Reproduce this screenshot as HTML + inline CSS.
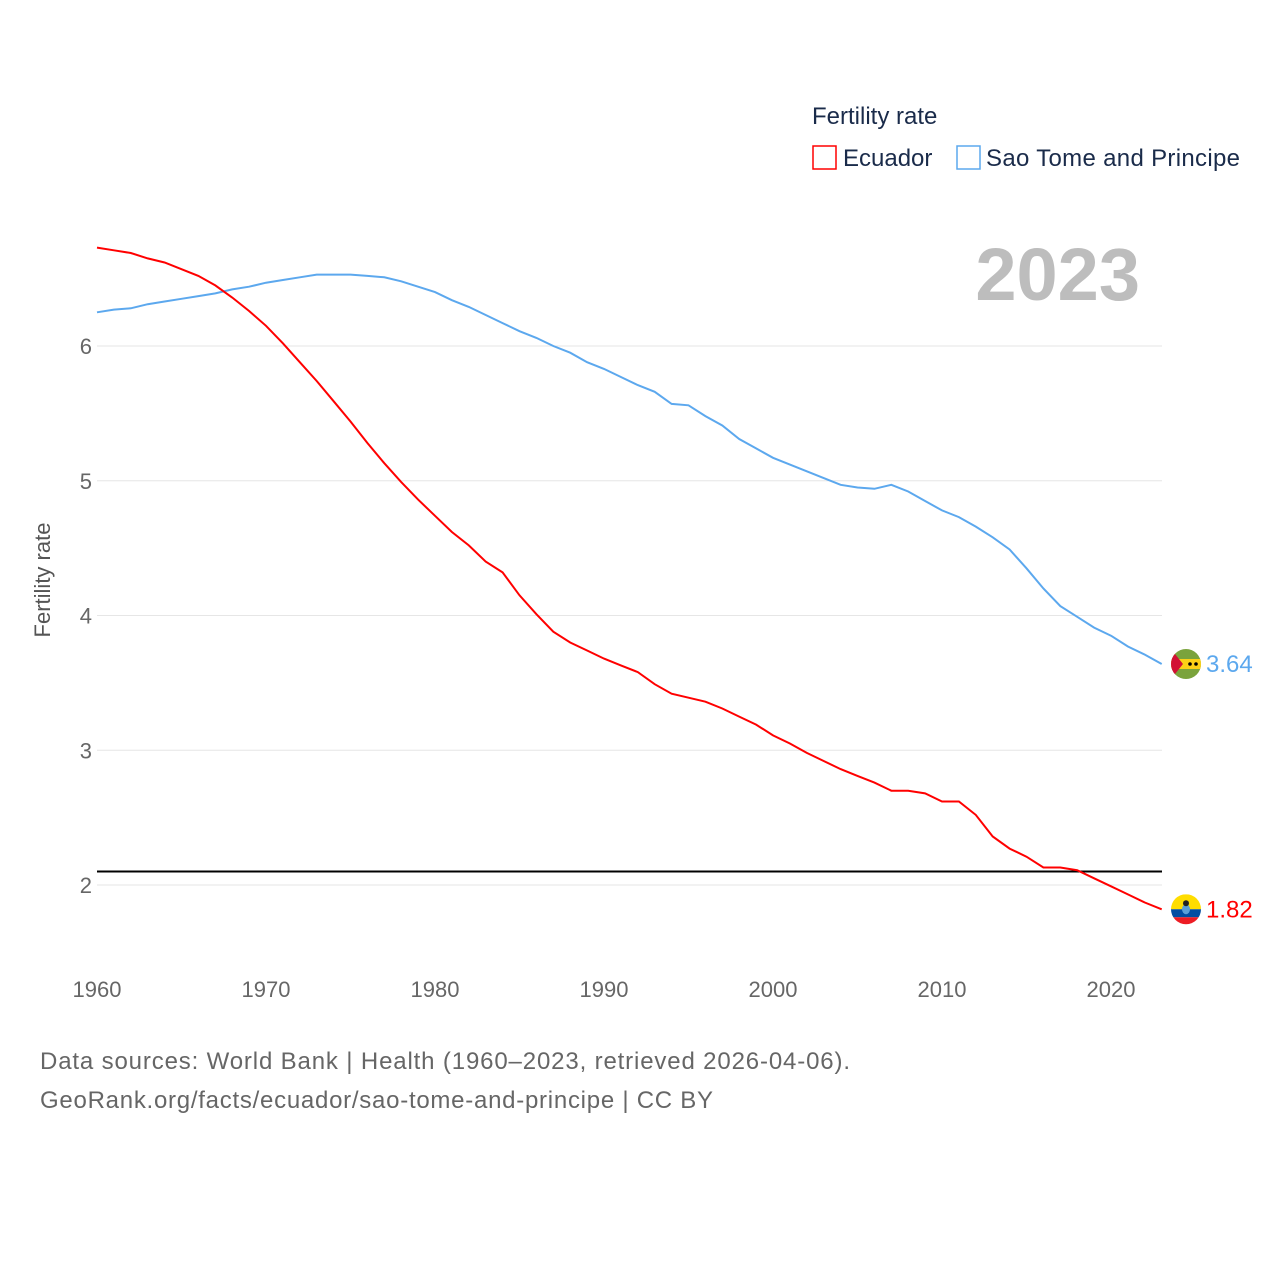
<!DOCTYPE html>
<html><head><meta charset="utf-8">
<style>
body{margin:0;background:#fff;}
svg{display:block;font-family:"Liberation Sans",sans-serif;}
</style></head>
<body>
<svg id="chart" width="1280" height="1280" viewBox="0 0 1280 1280">
  <text x="812" y="124" font-size="24" fill="#1a2b4a">Fertility rate</text>
  <g>
    <rect x="813" y="146" width="23" height="23" fill="none" stroke="#ff0000" stroke-width="1.5"/>
    <text x="843" y="166" font-size="24" fill="#1a2b4a">Ecuador</text>
  </g>
  <g>
    <rect x="957" y="146" width="23" height="23" fill="none" stroke="#5ca8ee" stroke-width="1.5"/>
    <text x="986" y="166" font-size="24" fill="#1a2b4a" textLength="254">Sao Tome and Principe</text>
  </g>
  <text x="1140" y="300" font-size="74" font-weight="bold" fill="#bdbdbd" text-anchor="end">2023</text>
  <text transform="translate(50,580) rotate(-90)" font-size="22" fill="#555" text-anchor="middle">Fertility rate</text>
  <g id="grid"></g>
  <g id="series"></g>
  <text x="40" y="1069" font-size="24" fill="#666" textLength="810">Data sources: World Bank | Health (1960–2023, retrieved 2026-04-06).</text>
  <text x="40" y="1108" font-size="24" fill="#666" textLength="673">GeoRank.org/facts/ecuador/sao-tome-and-principe | CC BY</text>
</svg>
<script>
const years = [];
for (let y = 1960; y <= 2023; y++) years.push(y);
const ecuador = [6.73,6.71,6.69,6.65,6.62,6.57,6.52,6.45,6.36,6.26,6.15,6.02,5.88,5.74,5.59,5.44,5.28,5.13,4.99,4.86,4.74,4.62,4.52,4.40,4.32,4.15,4.01,3.88,3.80,3.74,3.68,3.63,3.58,3.49,3.42,3.39,3.36,3.31,3.25,3.19,3.11,3.05,2.98,2.92,2.86,2.81,2.76,2.70,2.70,2.68,2.62,2.62,2.52,2.36,2.27,2.21,2.13,2.13,2.11,2.05,1.99,1.93,1.87,1.82];
const saoTome = [6.25,6.27,6.28,6.31,6.33,6.35,6.37,6.39,6.42,6.44,6.47,6.49,6.51,6.53,6.53,6.53,6.52,6.51,6.48,6.44,6.40,6.34,6.29,6.23,6.17,6.11,6.06,6.00,5.95,5.88,5.83,5.77,5.71,5.66,5.57,5.56,5.48,5.41,5.31,5.24,5.17,5.12,5.07,5.02,4.97,4.95,4.94,4.97,4.92,4.85,4.78,4.73,4.66,4.58,4.49,4.35,4.20,4.07,3.99,3.91,3.85,3.77,3.71,3.64];
const yTicks = [2,3,4,5,6];
const xTicks = [1960,1970,1980,1990,2000,2010,2020];
const replacementRate = 2.1;

const NS = "http://www.w3.org/2000/svg";
const xS = yr => 97 + (yr - 1960) * (1064.7 / 63);
const yS = v => 885 - (v - 2) * 134.75;
function mk(tag, attrs, parent) {
  const e = document.createElementNS(NS, tag);
  for (const k in attrs) e.setAttribute(k, attrs[k]);
  parent.appendChild(e);
  return e;
}
const grid = document.getElementById('grid');
const ser = document.getElementById('series');
yTicks.forEach(t => {
  const l = mk('line', {x1: 97, x2: 1162, y1: yS(t), y2: yS(t), stroke: '#e6e6e6', 'stroke-width': 1}, grid);
  
  
  const tx = mk('text', {x: 92, y: yS(t) + 8, 'font-size': 22, fill: '#666', 'text-anchor': 'end'}, grid);
  tx.textContent = t;
  
  
});
xTicks.forEach(t => {
  const tx = mk('text', {x: xS(t), y: 997, 'font-size': 22, fill: '#666', 'text-anchor': 'middle'}, grid);
  tx.textContent = t;
  
  
});
const ref = mk('line', {x1: 97, x2: 1162, y1: yS(replacementRate), y2: yS(replacementRate), stroke: '#000', 'stroke-width': 2}, ser);



function drawLine(vals, color, name) {
  const d = vals.map((v, i) => (i ? 'L' : 'M') + xS(years[i]).toFixed(1) + ',' + yS(v).toFixed(1)).join(' ');
  const p = mk('path', {d: d, fill: 'none', stroke: color, 'stroke-width': 2}, ser);
  
  
  const last = vals[vals.length - 1];
  const lbl = mk('text', {x: 1206, y: yS(last) + 8, 'font-size': 24, fill: color}, ser);
  lbl.textContent = last.toFixed(2);
  
  
  return yS(last);
}
const yStp = drawLine(saoTome, '#5ca8ee', 'sao-tome');
const yEc = drawLine(ecuador, '#ff0000', 'ecuador');

const cx = 1186;
const defs = mk('defs', {}, ser);
const c1 = mk('clipPath', {id: 'cstp'}, defs); mk('circle', {cx: cx, cy: yStp, r: 15}, c1);
const c2 = mk('clipPath', {id: 'cec'}, defs); mk('circle', {cx: cx, cy: yEc, r: 15}, c2);
const fs = mk('g', {'clip-path': 'url(#cstp)'}, ser);


mk('rect', {x: cx - 15, y: yStp - 15, width: 30, height: 30, fill: '#7aa33c'}, fs);
mk('rect', {x: cx - 15, y: yStp - 5, width: 30, height: 10, fill: '#fcd116'}, fs);
mk('polygon', {points: `${cx-15},${yStp-15} ${cx-3},${yStp} ${cx-15},${yStp+15}`, fill: '#d21034'}, fs);
mk('circle', {cx: cx + 4, cy: yStp, r: 1.8, fill: '#000'}, fs);
mk('circle', {cx: cx + 10, cy: yStp, r: 1.8, fill: '#000'}, fs);
const fe = mk('g', {'clip-path': 'url(#cec)'}, ser);


mk('rect', {x: cx - 15, y: yEc - 15, width: 30, height: 15, fill: '#ffdd00'}, fe);
mk('rect', {x: cx - 15, y: yEc, width: 30, height: 8, fill: '#034ea2'}, fe);
mk('rect', {x: cx - 15, y: yEc + 8, width: 30, height: 8, fill: '#ed1c24'}, fe);
mk('ellipse', {cx: cx, cy: yEc, rx: 4, ry: 5, fill: '#5aa0d8'}, fe);
mk('circle', {cx: cx, cy: yEc - 6, r: 3, fill: '#222'}, fe);
</script>
</body></html>
